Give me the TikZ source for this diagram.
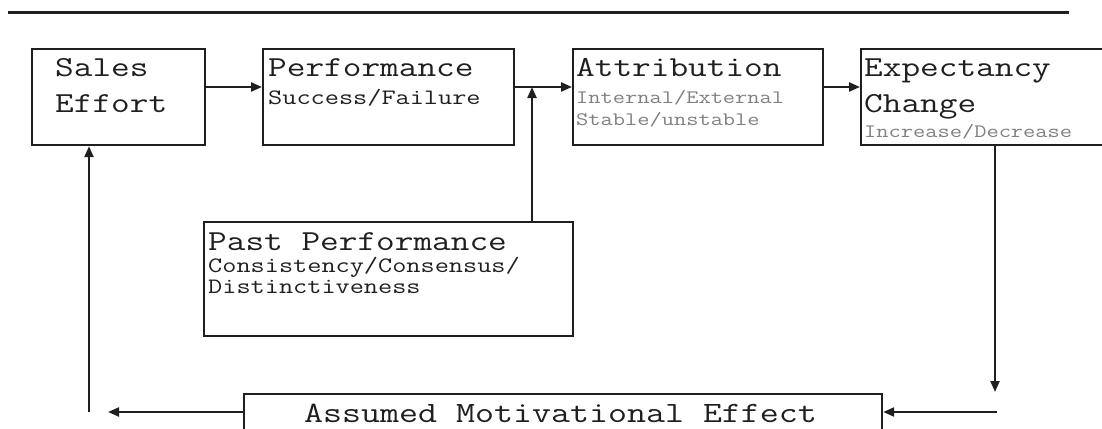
\documentclass[tikz,border=0pt]{standalone}
\usepackage{fontspec}
\setmonofont[FakeStretch=1.25]{Latin Modern Mono}
\usetikzlibrary{arrows.meta}
\definecolor{subgray}{gray}{0.5}
\definecolor{ink}{gray}{0.12}
\begin{document}
\begin{tikzpicture}[x=1pt,y=-1pt,
  box/.style={draw=ink,line width=2.2pt,rectangle,inner sep=0pt,anchor=north west},
  txt/.style={anchor=base west,inner sep=0pt,text=ink,font=\ttfamily\fontsize{29}{32}\selectfont},
  subdark/.style={anchor=base west,inner sep=0pt,text=ink,font=\ttfamily\fontsize{22}{24}\selectfont},
  sublight/.style={anchor=base west,inner sep=0pt,text=subgray,font=\ttfamily\fontsize{19}{21}\selectfont},
  arr/.style={draw=ink,line width=2.2pt,-{Triangle[length=11pt,width=9pt]}}]
\useasboundingbox (0,0) rectangle (1102,428);
\fill[white] (0,0) rectangle (1102,428);

% rule across the top
\draw[ink,line width=3pt] (8,13) -- (1069,13);

% boxes
\node[box,minimum width=173pt,minimum height=96pt] (se) at (31,48) {};
\node[box,minimum width=251pt,minimum height=96pt] (perf) at (262,48) {};
\node[box,minimum width=250pt,minimum height=96pt] (attr) at (572,48) {};
\node[box,minimum width=244pt,minimum height=96pt] (exp) at (860,48) {};
\node[box,minimum width=369pt,minimum height=114pt] (past) at (203,221) {};
\node[box,minimum width=638pt,minimum height=60pt] (ame) at (243,393) {};

% labels
\node[txt] (seA) at (55,77) {Sales};
\node[txt] (seB) at (55,112) {Effort};
\node[txt] (perfA) at (268,77) {Performance};
\node[subdark] (perfB) at (268,104) {Success/Failure};
\node[txt] (attrA) at (576,77) {Attribution};
\node[sublight] (attrB) at (576,103) {Internal/External};
\node[sublight] (attrC) at (576,125) {Stable/unstable};
\node[txt] (expA) at (864,77) {Expectancy};
\node[txt] (expB) at (864,112) {Change};
\node[sublight] (expC) at (864,137) {Increase/Decrease};
\node[txt] (pastA) at (208,250) {Past Performance};
\node[subdark] (pastB) at (208,272) {Consistency/Consensus/};
\node[subdark] (pastC) at (208,293) {Distinctiveness};
\node[txt,font=\ttfamily\fontsize{29.5}{32}\selectfont] (ameA) at (304,422) {Assumed Motivational Effect};

% connector positions
\coordinate (flow) at (0,87);
\coordinate (join) at (532,87);
\coordinate (drop) at (995,392);
\coordinate (rin) at (997,412);
\coordinate (lout) at (108,412);
\coordinate (rise) at (89,412);

% connectors
\draw[arr] (se.east |- flow) -- (perf.west |- flow);
\draw[arr] (perf.east |- flow) -- (attr.west |- flow);
\draw[arr] (attr.east |- flow) -- (exp.west |- flow);
\draw[arr] (past.north -| join) -- (join);
\draw[arr] (exp.south -| drop) -- (drop);
\draw[arr] (rin) -- (ame.east |- rin);
\draw[arr] (ame.west |- lout) -- (lout);
\draw[arr] (rise) -- (se.south -| rise);
\end{tikzpicture}
\end{document}
